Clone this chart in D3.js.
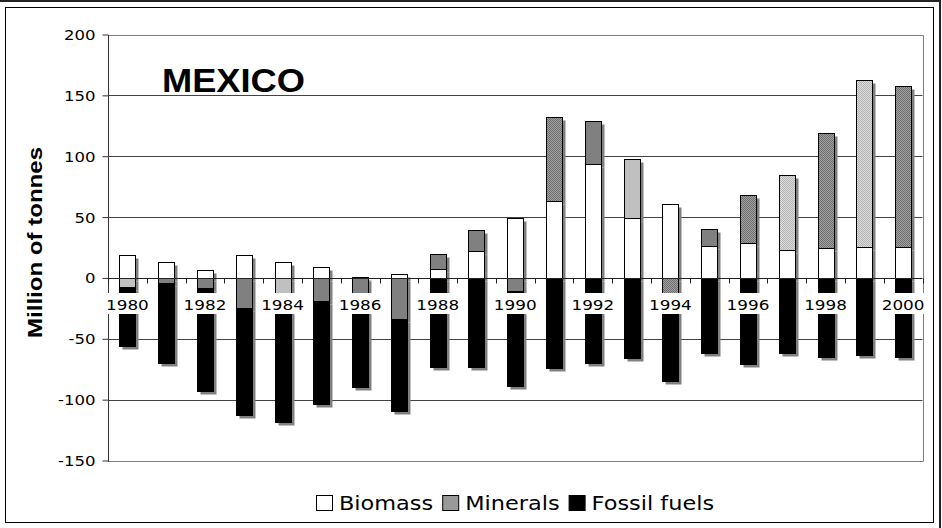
<!DOCTYPE html>
<html>
<head>
<meta charset="utf-8">
<script src="https://cdn.jsdelivr.net/npm/d3@7"></script>
<style>
  html, body { margin: 0; padding: 0; background: #fff; }
  svg { display: block; }
</style>
</head>
<body>
<svg id="chart" width="942" height="528"></svg>
<script>
// Mexico: physical trade balance by material group, million tonnes
const years = ["1980","1981","1982","1983","1984","1985","1986","1987","1988","1989","1990",
               "1991","1992","1993","1994","1995","1996","1997","1998","1999","2000"];
const biomass  = [18.9, 13.4, 6.3, 18.7, 12.9, 9.3, 0.5, 3.5, 7.7, 22.0, 49.0,
                  63.6, 93.5, 49.3, 60.9, 26.6, 28.8, 23.3, 24.7, 25.7, 25.7];
const minerals = [-7.2, -3.8, -8.2, -24.4, -16.0, -18.9, -12.0, -33.7, 12.3, 17.2, -11.0,
                  68.4, 35.5, 48.3, -12.0, 13.9, 39.7, 61.4, 94.3, 137.3, 132.3];
const fossil   = [-48.8, -65.9, -84.7, -88.6, -102.4, -85.0, -77.4, -75.7, -72.9, -73.0, -77.8,
                  -73.7, -70.0, -65.5, -72.5, -61.4, -70.7, -61.9, -65.2, -63.0, -65.2];
const seriesNames = ["Biomass", "Minerals", "Fossil fuels"];
const yTicks = [-150, -100, -50, 0, 50, 100, 150, 200];
const xLabelYears = years.filter((d, i) => i % 2 === 0);
const title = "MEXICO";
const yTitle = "Million of tonnes";

// per-year fill style of the minerals segment
const mineralFills = ["lightSolid","darkSolid","darkSolid","darkSolid","lightSolid","darkSolid","darkSolid",
                      "darkSolid","darkSolid","darkSolid","darkSolid","darkDots","darkSolid","lightSolid",
                      "darkDots","darkSolid","darkDots","lightDots","darkDots","lightDots","darkDots"];

const svg = d3.select("#chart");
const W = 942, H = 528;
const plot = { left: 108, right: 922.5, top: 34.5, bottom: 460.5 };

// dithered fills
const defs = svg.append("defs");
function dither(id, bg, fg) {
  const p = defs.append("pattern").attr("id", id).attr("patternUnits", "userSpaceOnUse")
    .attr("width", 2).attr("height", 2);
  p.append("rect").attr("width", 2).attr("height", 2).attr("fill", bg);
  p.append("rect").attr("x", 0).attr("y", 0).attr("width", 1).attr("height", 1).attr("fill", fg);
  p.append("rect").attr("x", 1).attr("y", 1).attr("width", 1).attr("height", 1).attr("fill", fg);
}
dither("darkDots", "#a0a0a0", "#707070");
dither("lightDots", "#dcdcdc", "#b4b4b4");
const fillOf = {
  lightSolid: "#c0c0c0",
  darkSolid: "#808080",
  darkDots: "url(#darkDots)",
  lightDots: "url(#lightDots)"
};

// outer frame and chart border
svg.append("path").attr("d", `M0,1 H940 V${H}`).attr("fill", "none")
  .attr("stroke", "#222").attr("stroke-width", 2);
svg.append("rect").attr("x", 5.5).attr("y", 7.5).attr("width", 928).attr("height", 515)
  .attr("fill", "#fff").attr("stroke", "#000").attr("stroke-width", 1);

const x = d3.scaleBand().domain(years).range([plot.left, plot.right]).padding(0);
const y = d3.scaleLinear().domain([-150, 200]).range([plot.bottom, plot.top]);
const barW = Math.round(x.bandwidth() * 0.413);
const barX = d => Math.round(x(d) + (x.bandwidth() - barW) / 2) + 0.5;

// gridlines
svg.append("g").selectAll("line").data(yTicks.filter(t => t !== 0 && t !== 200 && t !== -150))
  .join("line")
  .attr("x1", plot.left).attr("x2", plot.right)
  .attr("y1", d => Math.round(y(d)) + 0.5).attr("y2", d => Math.round(y(d)) + 0.5)
  .attr("stroke", "#444").attr("stroke-width", 1);

// plot border (top, right, bottom)
svg.append("path")
  .attr("d", `M${plot.left},${Math.round(plot.top) + 0.5} H${Math.round(plot.right) + 0.5} V${Math.round(plot.bottom) + 0.5} H${plot.left}`)
  .attr("fill", "none").attr("stroke", "#808080").attr("stroke-width", 1);

// stacked columns, positives up and negatives down
const table = years.map((yr, i) => ({ year: yr, Biomass: biomass[i], Minerals: minerals[i], "Fossil fuels": fossil[i] }));
const stacked = d3.stack().keys(seriesNames).offset(d3.stackOffsetDiverging)(table);

const segs = [];
stacked.forEach(s => s.forEach((d, i) => {
  if (d[1] === d[0]) return;
  segs.push({ key: s.key, year: years[i], i, y0: d[0], y1: d[1] });
}));
const segFill = s => s.key === "Biomass" ? "#fff" : s.key === "Fossil fuels" ? "#000" : fillOf[mineralFills[s.i]];
const segY = s => Math.round(y(s.y1)) + 0.5;
const segH = s => Math.round(y(s.y0)) - Math.round(y(s.y1));

svg.append("g").selectAll("rect").data(segs).join("rect")
  .attr("x", s => barX(s.year) + 3).attr("y", s => segY(s) + 3)
  .attr("width", barW).attr("height", segH)
  .attr("fill", "#808080");

svg.append("g").selectAll("rect").data(segs).join("rect")
  .attr("x", s => barX(s.year)).attr("y", segY)
  .attr("width", barW).attr("height", segH)
  .attr("fill", segFill).attr("stroke", "#000").attr("stroke-width", 1);

// value axis
const yAxisG = svg.append("g").attr("transform", `translate(${plot.left + 0.5},0)`)
  .call(d3.axisLeft(y).tickValues(yTicks).tickFormat(d => String(d)).tickSize(6).tickPadding(7));
yAxisG.select(".domain").attr("stroke", "#333")
  .attr("d", `M0,${Math.round(plot.top)} V${Math.round(plot.bottom) + 1}`);
yAxisG.selectAll(".tick line").attr("stroke", "#333");
yAxisG.selectAll(".tick text")
  .attr("font-family", "'DejaVu Sans', Verdana, sans-serif").attr("font-size", 14)
  .attr("fill", "#000").attr("dy", null).attr("y", 5);

// category axis along zero
const zeroY = Math.round(y(0)) + 0.5;
svg.append("line").attr("x1", plot.left).attr("x2", plot.right)
  .attr("y1", zeroY).attr("y2", zeroY).attr("stroke", "#222").attr("stroke-width", 1);
const bounds = years.map(d => x(d)).concat([x(years[years.length - 1]) + x.bandwidth()]);
svg.append("g").selectAll("line").data(bounds).join("line")
  .attr("x1", d => Math.round(d) + 0.5).attr("x2", d => Math.round(d) + 0.5)
  .attr("y1", zeroY).attr("y2", zeroY + 5)
  .attr("stroke", "#222");

function stretch(sel, f) {
  sel.each(function () {
    const w = this.getComputedTextLength();
    this.setAttribute("textLength", (w * f).toFixed(1));
    this.setAttribute("lengthAdjust", "spacingAndGlyphs");
  });
}
stretch(yAxisG.selectAll(".tick text"), 1.18);

// year labels on white boxes
const xl = svg.append("g").selectAll("g").data(xLabelYears).join("g")
  .attr("transform", d => `translate(${x(d) + x.bandwidth() / 2},0)`);
const xlBox = xl.append("rect").attr("fill", "#fff");
const xlText = xl.append("text").text(d => d)
  .attr("text-anchor", "middle").attr("y", 310)
  .attr("font-family", "'DejaVu Sans', Verdana, sans-serif").attr("font-size", 14.5).attr("fill", "#000");
stretch(xlText, 1.16);
xlText.each(function () {
  const w = +this.getAttribute("textLength");
  d3.select(this.previousSibling)
    .attr("x", -w / 2 - 3).attr("width", w + 6).attr("y", 293).attr("height", 21);
});

// chart title
svg.append("text").text(title)
  .attr("x", 162).attr("y", 92)
  .attr("font-family", "'Liberation Sans', Arial, sans-serif").attr("font-weight", "bold")
  .attr("font-size", 33).attr("textLength", 143).attr("lengthAdjust", "spacingAndGlyphs");

// value axis title
svg.append("text").text(yTitle)
  .attr("transform", "translate(42,242.5) rotate(-90)")
  .attr("text-anchor", "middle")
  .attr("font-family", "'Liberation Sans', Arial, sans-serif").attr("font-weight", "bold")
  .attr("font-size", 21).attr("textLength", 191).attr("lengthAdjust", "spacingAndGlyphs");

// legend
const legendFills = ["#fff", "#999", "#000"];
const lg = svg.append("g");
const items = lg.selectAll("g").data(seriesNames).join("g");
items.append("rect").attr("width", 16).attr("height", 15).attr("y", 495.5)
  .attr("fill", (d, i) => legendFills[i]).attr("stroke", "#000");
const lt = items.append("text").text(d => d).attr("y", 510)
  .attr("font-family", "'DejaVu Sans', Verdana, sans-serif").attr("font-size", 20).attr("fill", "#000");
stretch(lt, 1.12);
let widths = [];
lt.each(function () { widths.push(+this.getAttribute("textLength")); });
const boxW = 16, gapT = 7, gapI = 9;
const total = d3.sum(widths) + seriesNames.length * (boxW + gapT) + (seriesNames.length - 1) * gapI;
let cx = Math.round((plot.left + plot.right) / 2 - total / 2);
items.each(function (d, i) {
  const g = d3.select(this);
  g.select("rect").attr("x", cx + 0.5);
  g.select("text").attr("x", cx + boxW + gapT);
  cx += boxW + gapT + widths[i] + gapI;
});
</script>
</body>
</html>
